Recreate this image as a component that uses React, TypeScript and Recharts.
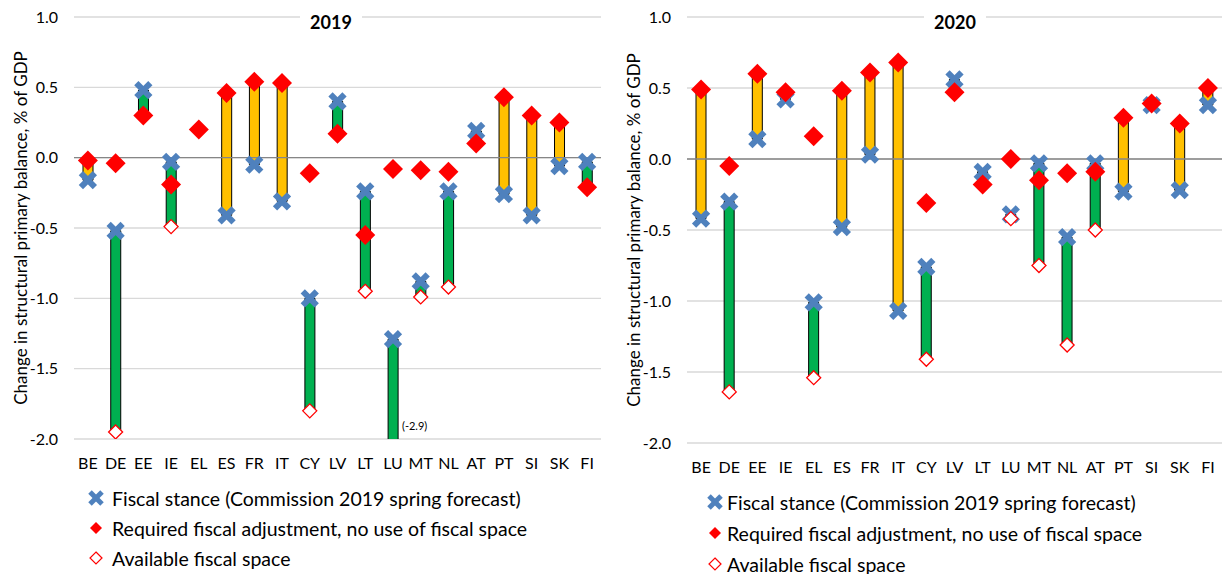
import React from 'react';
import {
  ComposedChart, Bar, Scatter, XAxis, YAxis, CartesianGrid, ReferenceLine, ReferenceDot, Cell,
} from 'recharts';

const countries = ['BE', 'DE', 'EE', 'IE', 'EL', 'ES', 'FR', 'IT', 'CY', 'LV', 'LT', 'LU', 'MT', 'NL', 'AT', 'PT', 'SI', 'SK', 'FI'];

// 2019
const stance2019 = [-0.16, -0.52, 0.48, -0.03, null, -0.41, -0.05, -0.31, -1.0, 0.4, -0.24, -1.29, -0.88, -0.24, 0.19, -0.26, -0.41, -0.06, -0.03];
const required2019 = [-0.02, -0.04, 0.3, -0.19, 0.2, 0.46, 0.54, 0.53, -0.11, 0.17, -0.55, -0.08, -0.09, -0.1, 0.1, 0.43, 0.3, 0.25, -0.21];
const space2019 = [null, -1.95, null, -0.49, null, null, null, null, -1.8, null, -0.95, -2.9, -0.99, -0.92, null, null, null, null, null];

// 2020
const stance2020 = [-0.42, -0.3, 0.14, 0.42, -1.01, -0.48, 0.03, -1.07, -0.76, 0.56, -0.09, -0.39, -0.03, -0.55, -0.03, -0.23, 0.38, -0.22, 0.38];
const required2020 = [0.49, -0.05, 0.6, 0.47, 0.16, 0.48, 0.61, 0.68, -0.31, 0.47, -0.18, 0.0, -0.15, -0.1, -0.09, 0.29, 0.39, 0.25, 0.5];
const space2020 = [null, -1.64, null, null, -1.54, null, null, null, -1.41, null, null, -0.42, -0.75, -1.31, -0.5, null, null, null, null];

const yTicks = [-2, -1.5, -1, -0.5, 0, 0.5, 1];

const legendItems = [
  'Fiscal stance (Commission 2019 spring forecast)',
  'Required fiscal adjustment, no use of fiscal space',
  'Available fiscal space',
];

const BLUE = '#4f81bd';
const RED = '#ff0000';
const GREEN = '#00b050';
const YELLOW = '#ffc000';
const FONT = 'Lato, "Open Sans", sans-serif';

type Val = number | null;

function buildRows(stance: Val[], required: Val[], space: Val[]) {
  return countries.map((country, i) => {
    const s = stance[i];
    const r = required[i];
    const f = space[i];
    let range: number[] | null = null;
    let kind = 'green';
    if (s != null) {
      if (f != null) range = [f, s];
      else if (r != null && s < r) { range = [s, r]; kind = 'yellow'; }
      else if (r != null) range = [r, s];
    }
    return { country, stance: s, required: r, space: f, range, kind };
  });
}

const CrossShape = (props: any) => {
  const { cx, cy, payload } = props;
  if (payload == null || payload.stance == null || !Number.isFinite(cy)) return <g />;
  const d = 7;
  return (
    <g>
      <line x1={cx - d} y1={cy - d} x2={cx + d} y2={cy + d} stroke={BLUE} strokeWidth={6} />
      <line x1={cx - d} y1={cy + d} x2={cx + d} y2={cy - d} stroke={BLUE} strokeWidth={6} />
    </g>
  );
};

const RedDiamond = (props: any) => {
  const { cx, cy, payload } = props;
  if (payload == null || payload.required == null || !Number.isFinite(cy)) return <g />;
  const d = 10;
  return <polygon points={`${cx},${cy - d} ${cx + d},${cy} ${cx},${cy + d} ${cx - d},${cy}`} fill={RED} />;
};

const OpenDiamond = (props: any) => {
  const { cx, cy, payload } = props;
  if (payload == null || payload.space == null || !Number.isFinite(cy)) return <g />;
  const d = 7;
  return <polygon points={`${cx},${cy - d} ${cx + d},${cy} ${cx},${cy + d} ${cx - d},${cy}`} fill="#fff" stroke={RED} strokeWidth={1.3} />;
};

const AxisTitle = (dx: number) => (props: any) => {
  const vb = props.viewBox || {};
  const x = vb.x + dx;
  const y = vb.y + vb.height / 2;
  return (
    <text x={x} y={y} transform={`rotate(-90 ${x} ${y})`} textAnchor="middle" dominantBaseline="central"
      fontSize={17} fontFamily={FONT} fill="#000">
      Change in structural primary balance, % of GDP
    </text>
  );
};

const OverflowLabel = (props: any) => {
  const vb = props.viewBox || {};
  return (
    <text x={vb.x + 9} y={vb.y - 14} fontSize={11} fontFamily={FONT} fill="#000" dominantBaseline="central">
      (-2.9)
    </text>
  );
};

function Legend({ left, top, gap, textGap }: { left: number; top: number; gap: number; textGap: number }) {
  const markers = [
    <svg width={18} height={18} key="x"><line x1={3} y1={3} x2={15} y2={15} stroke={BLUE} strokeWidth={5} /><line x1={3} y1={15} x2={15} y2={3} stroke={BLUE} strokeWidth={5} /></svg>,
    <svg width={18} height={18} key="r"><polygon points="9,3 15,9 9,15 3,9" fill={RED} /></svg>,
    <svg width={18} height={18} key="o"><polygon points="9,3 15,9 9,15 3,9" fill="#fff" stroke={RED} strokeWidth={1.2} /></svg>,
  ];
  return (
    <>
      {legendItems.map((t, i) => (
        <div key={t} style={{ position: 'absolute', left, top: top + i * gap - 13, height: 26, display: 'flex', alignItems: 'center', fontSize: 19.5, fontFamily: FONT, color: '#000', whiteSpace: 'nowrap' }}>
          {markers[i]}
          <span style={{ marginLeft: textGap }}>{t}</span>
        </div>
      ))}
    </>
  );
}

function Panel({ rows, title, bottom, left, right, titleCenter, showOverflow }: any) {
  return (
    <>
      <ComposedChart width={612} height={574} data={rows} margin={{ top: 17, right, bottom, left: 0 }}
        style={{ position: 'absolute', left: 0, top: 0 }}>
        <CartesianGrid vertical={false} stroke="#d9d9d9" strokeWidth={1.3} />
        <XAxis dataKey="country" axisLine={false} tickLine={false} tickSize={0} tickMargin={19} height={30} interval={0}
          tick={{ fontSize: 16, fill: '#000', fontFamily: FONT }} />
        <YAxis domain={[-2, 1]} ticks={yTicks} allowDataOverflow width={left} axisLine={false} tickLine={false}
          tickSize={0} tickMargin={16} tickFormatter={(v: number) => v.toFixed(1)}
          tick={{ fontSize: 16, fill: '#000', fontFamily: FONT }}
          label={{ content: AxisTitle(left === 74 ? 20 : 21) }} />
        <ReferenceLine y={0} stroke="#868686" strokeWidth={1.3} />
        <Bar dataKey="range" barSize={10} stroke="#000" strokeWidth={1} isAnimationActive={false}>
          {rows.map((r: any, i: number) => (
            <Cell key={i} fill={r.kind === 'yellow' ? YELLOW : GREEN} />
          ))}
        </Bar>
        <Scatter dataKey="stance" shape={CrossShape} isAnimationActive={false} />
        <Scatter dataKey="required" shape={RedDiamond} isAnimationActive={false} />
        <Scatter dataKey="space" shape={OpenDiamond} isAnimationActive={false} />
        {showOverflow && (
          <ReferenceDot x="LU" y={-2} r={0} fill="none" stroke="none" label={{ content: OverflowLabel }} />
        )}
      </ComposedChart>
      <div style={{ position: 'absolute', left: titleCenter - 31, top: 10, width: 62, height: 24, background: '#fff',
        textAlign: 'center', fontWeight: 700, fontSize: 18, lineHeight: '24px', fontFamily: FONT, color: '#000' }}>
        {title}
      </div>
    </>
  );
}

export default function App() {
  const rows2019 = buildRows(stance2019, required2019, space2019);
  const rows2020 = buildRows(stance2020, required2020, space2020);
  return (
    <div style={{ position: 'absolute', left: 0, top: 0, width: 1224, height: 574, background: '#fff', overflow: 'hidden' }}>
      <div style={{ position: 'absolute', left: 0, top: 0, width: 612, height: 574 }}>
        <Panel rows={rows2019} title="2019" bottom={105} left={74} right={11} titleCenter={331} showOverflow />
        <Legend left={87} top={498} gap={30} textGap={7} />
      </div>
      <div style={{ position: 'absolute', left: 612, top: 0, width: 612, height: 574 }}>
        <Panel rows={rows2020} title="2020" bottom={101} left={75} right={2} titleCenter={343} showOverflow={false} />
        <Legend left={94} top={502} gap={31} textGap={3} />
      </div>
    </div>
  );
}
